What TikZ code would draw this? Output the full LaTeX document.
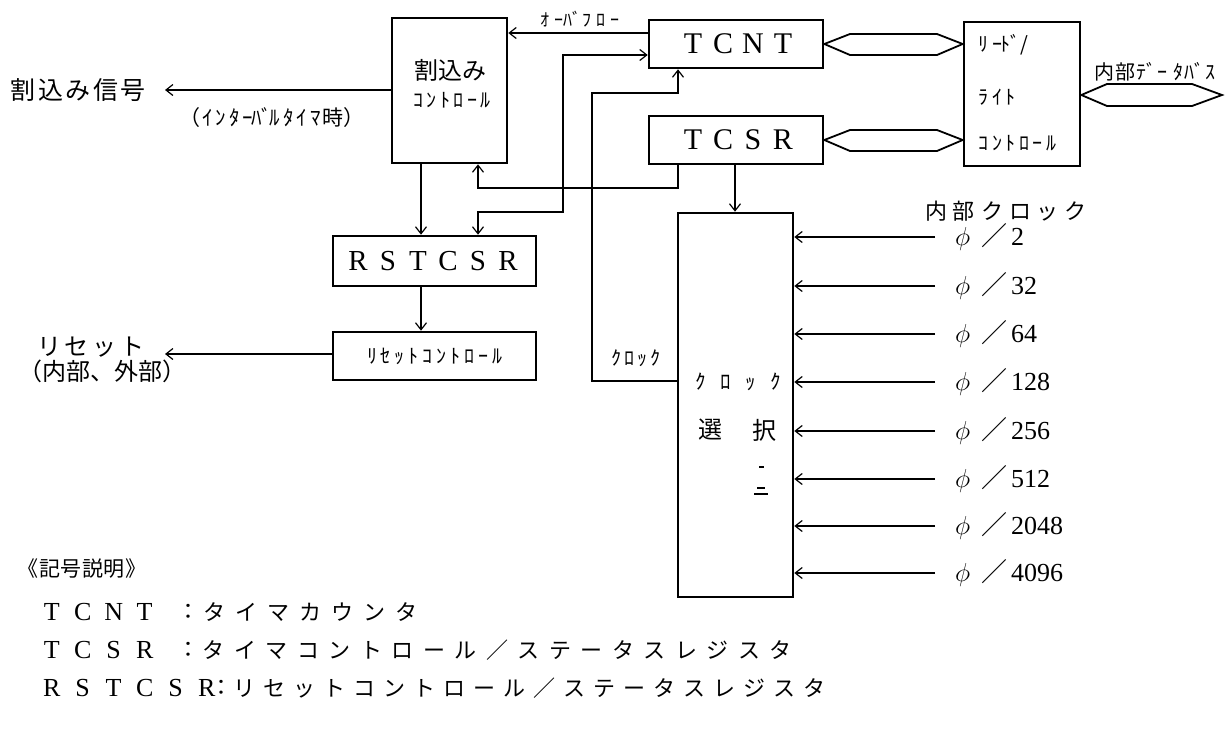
\RequirePackage{fix-cm}
\documentclass[tikz,border=0pt]{standalone}
\usepackage{fontspec}
\setmainfont{Liberation Serif}
\newfontfamily\jp{Noto Sans CJK JP}
\usetikzlibrary{arrows.meta}
\newlength\spcpitch
\def\spcloop#1{\ifx\relax#1\else\makebox[\spcpitch]{#1}\expandafter\spcloop\fi}
\newcommand\spaced[2]{\setlength\spcpitch{#1}\spcloop#2\relax}
\begin{document}
\begin{tikzpicture}[x=1pt,y=-1pt,>={Straight Barb[length=7pt,width=11pt]}]
\tikzset{
  blk/.style={draw, line width=2.6pt, inner sep=0pt},
  conn/.style={line width=1.2pt},
  bus/.style={line width=1.8pt, line join=miter},
  txt/.style={inner sep=0pt},
  jhalf/.style={txt, font=\jp\fontsize{20}{20}\selectfont},
  jfull/.style={txt, font=\jp\fontsize{23}{23}\selectfont},
  latin/.style={txt, font=\fontsize{29}{29}\selectfont},
  phil/.style={txt, anchor=west, font=\fontsize{26}{26}\selectfont},
}
\useasboundingbox (0,0) rectangle (1229,731);

% blocks
\node[blk, minimum width=115pt, minimum height=145pt] (intc) at (449.5,90.5) {};
\node[blk, minimum width=174pt, minimum height=48pt] (tcnt) at (736,44) {};
\node[blk, minimum width=174pt, minimum height=48pt] (tcsr) at (736,140) {};
\node[blk, minimum width=116pt, minimum height=144pt] (rw) at (1022,94) {};
\node[blk, minimum width=203pt, minimum height=50pt] (rst) at (434.5,261) {};
\node[blk, minimum width=203pt, minimum height=48pt] (rstc) at (434.5,356) {};
\node[blk, minimum width=115pt, minimum height=384pt] (clk) at (735.5,405) {};

% block texts
\node[jfull, font=\jp\fontsize{24}{24}\selectfont] (tintc1) at (450,70) {\spaced{24pt}{割込み}};
\node[jhalf] (tintc2) at (452,100) {\spaced{13.5pt}{ｺﾝﾄﾛｰﾙ}};
\node[latin, font=\fontsize{30}{30}\selectfont] (ttcnt) at (738,44) {\spaced{30pt}{TCNT}};
\node[latin, font=\fontsize{30}{30}\selectfont] (ttcsr) at (738,140) {\spaced{30pt}{TCSR}};
\node[latin] (trst) at (433,261) {\spaced{30pt}{RSTCSR}};
\node[jhalf] (trstc) at (435,356) {\spaced{14pt}{ﾘｾｯﾄｺﾝﾄﾛｰﾙ}};
\node[jhalf, anchor=west] (trw1) at (977,45) {\spaced{13.5pt}{ﾘｰ{ﾄﾞ}/}};
\node[jhalf, anchor=west] (trw2) at (977,97) {\spaced{13.5pt}{ﾗｲﾄ}};
\node[jhalf, anchor=west] (trw3) at (977,143) {\spaced{13.5pt}{ｺﾝﾄﾛｰﾙ}};
\node[jhalf, font=\jp\fontsize{21}{21}\selectfont] (tclk1) at (738,382) {\spaced{25pt}{ｸﾛｯｸ}};
\node[jfull, font=\jp\fontsize{24}{24}\selectfont] (tclk2) at (710,430) {選};
\node[jfull, font=\jp\fontsize{24}{24}\selectfont] (tclk3) at (764,430) {択};
\draw[line width=1.2pt] (759,467) -- (764,467);
\draw[line width=1.2pt] (757,488) -- (765,488);
\draw[line width=1.6pt] (754,494) -- (768,494);

% outside labels
\node[jfull, font=\jp\fontsize{25}{25}\selectfont] (lsig) at (78,90) {\spaced{27.5pt}{割込み信号}};
\node[jhalf, font=\jp\fontsize{21}{21}\selectfont] (lint) at (272,118) {（\spaced{13.5pt}{ｲﾝﾀｰ{ﾊﾞ}ﾙﾀｲﾏ}時）};
\node[jhalf, font=\jp\fontsize{18}{18}\selectfont] (lovf) at (580,19) {\spaced{14pt}{ｵｰ{ﾊﾞ}ﾌﾛｰ}};
\node[jhalf] (lclk) at (636,358) {\spaced{13pt}{ｸﾛｯｸ}};
\node[jfull, font=\jp\fontsize{24}{24}\selectfont] (lrst1) at (91,347) {\spaced{28pt}{リセット}};
\node[jfull, font=\jp\fontsize{24}{24}\selectfont] (lrst2) at (103,371) {（内部、外部）};
\node[txt, anchor=west] (ldb) at (1094,72) {{\jp\fontsize{20}{20}\selectfont\spaced{21pt}{内部}\hspace{2pt}\spaced{16pt}{{ﾃﾞ}ｰﾀ{ﾊﾞ}ｽ}}};
\node[jfull, font=\jp\fontsize{22}{22}\selectfont] (lick) at (1006,211) {\spaced{28pt}{内部クロック}};

% buses
\draw[bus] (tcnt.east) -- (850,34) -- (937,34) -- (rw.west |- tcnt.east) -- (937,55) -- (850,55) -- cycle;
\draw[bus] (tcsr.east) -- (850,130) -- (937,130) -- (rw.west |- tcsr.east) -- (937,151) -- (850,151) -- cycle;
\coordinate (dbtip) at (1222,95);
\draw[bus] (rw.east |- dbtip) -- (1107,84) -- (1192,84) -- (dbtip) -- (1192,106) -- (1107,106) -- cycle;

% connectors
\coordinate (a1) at (165,90);
\draw[conn,->] (intc.west |- a1) -- (a1);
\coordinate (ovf) at (600,33);
\draw[conn,->] (tcnt.west |- ovf) -- (intc.east |- ovf);
\coordinate (b1) at (563,55);
\coordinate (b2) at (563,212);
\coordinate (b3) at (478,212);
\draw[conn,<->] (tcnt.west |- b1) -- (b1) -- (b2) -- (b3) -- (b3 |- rst.north);
\coordinate (c1) at (592,381);
\coordinate (c2) at (592,93);
\coordinate (c3) at (678,93);
\draw[conn,->] (clk.west |- c1) -- (c1) -- (c2) -- (c3) -- (c3 |- tcnt.south);
\coordinate (d1) at (678,188);
\coordinate (d2) at (478,188);
\draw[conn,->] (tcsr.south -| d1) -- (d1) -- (d2) -- (d2 |- intc.south);
\coordinate (e1) at (421,200);
\draw[conn,->] (intc.south -| e1) -- (rst.north -| e1);
\draw[conn,->] (rst.south -| e1) -- (rstc.north -| e1);
\coordinate (f1) at (735,200);
\draw[conn,->] (tcsr.south -| f1) -- (clk.north -| f1);
\coordinate (g1) at (165,354);
\draw[conn,->] (rstc.west |- g1) -- (g1);

% clock inputs
\foreach \yy/\lab [count=\i] in {237/2, 286/32, 334/64, 382/128, 431/256, 479/512, 526/2048, 573/4096} {
  \coordinate (in\i) at (935,\yy);
  \draw[conn,->] (in\i) -- (clk.east |- in\i);
  \node[phil] (phi\i) at (955,\yy) {\makebox[26pt][l]{$\phi$}{\jp ／}\hspace{4pt}\lab};
}

% legend
\node[jfull, font=\jp\fontsize{21}{21}\selectfont] (lg0) at (82,569) {\spaced{21.5pt}{《記号説明》}};
\node[latin, anchor=west, font=\fontsize{26}{26}\selectfont] (lg1a) at (36,612) {\spaced{31pt}{TCNT}};
\node[jfull, font=\jp\fontsize{22}{22}\selectfont] (lg1c) at (188,612) {：};
\node[jfull, anchor=west, font=\jp\fontsize{22}{22}\selectfont] (lg1b) at (198,612) {\spaced{32pt}{タイマカウンタ}};
\node[latin, anchor=west, font=\fontsize{26}{26}\selectfont] (lg2a) at (36,650) {\spaced{31pt}{TCSR}};
\node[jfull, font=\jp\fontsize{22}{22}\selectfont] (lg2c) at (188,650) {：};
\node[jfull, anchor=west, font=\jp\fontsize{22}{22}\selectfont] (lg2b) at (198,650) {\spaced{31.5pt}{タイマコントロール／ステータスレジスタ}};
\node[latin, anchor=west, font=\fontsize{26}{26}\selectfont] (lg3a) at (36,688) {\spaced{31pt}{RSTCSR}};
\node[jfull, font=\jp\fontsize{22}{22}\selectfont] (lg3c) at (221,688) {：};
\node[jfull, anchor=west, font=\jp\fontsize{22}{22}\selectfont] (lg3b) at (229,688) {\spaced{30pt}{リセットコントロール／ステータスレジスタ}};
\end{tikzpicture}
\end{document}
